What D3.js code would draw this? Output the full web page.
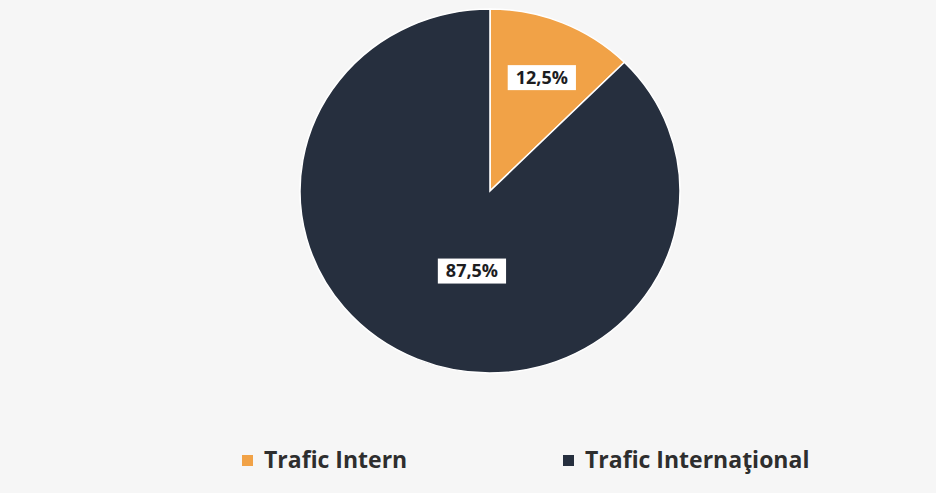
<!DOCTYPE html>
<html>
<head>
<meta charset="utf-8">
<script src="https://cdn.jsdelivr.net/npm/d3@7"></script>
<style>
	body { margin: 0; background: #f6f6f6; }
	svg { display: block; }
</style>
</head>
<body>
<div id="chart"></div>
<script>

const categories = ['Trafic Intern', 'Trafic Internaţional'];
const values = [12.5, 87.5];
const labels = ['12,5%', '87,5%'];
const colors = ['#f1a247', '#262f3e'];

const width = 936;
const height = 493;

const cx = 490;
const cy = 191;
const r = 182;
const sx = 190 / 182; // the scan stretches the pie a bit sideways

const svg = d3.select('#chart')
	.append('svg')
		.attr('width', width)
		.attr('height', height);

svg.append('rect')
	.attr('width', width)
	.attr('height', height)
	.attr('fill', '#f6f6f6');

const pie = d3.pie()
	.sort(null)
	.value(function(d) { return d; });

const arcs = pie(values);

const arc = d3.arc()
	.innerRadius(0)
	.outerRadius(r);

const g = svg.append('g')
	.attr('transform', `translate(${cx}, ${cy}) scale(${sx}, 1)`);

g.selectAll('path')
	.data(arcs)
	.enter().append('path')
		.attr('d', arc)
		.attr('fill', function(d, i) { return colors[i]; })
		.attr('stroke', '#ffffff')
		.attr('stroke-width', 1.5);

// label placement, roughly where the original put them
const labelRadius = [0.68, 0.45];
const labelTurn = [0.02, -0.18];

arcs.forEach(function(d, i) {
	let a = (d.startAngle + d.endAngle) / 2 + labelTurn[i];
	let lr = r * labelRadius[i];
	let x = cx + Math.sin(a) * lr * sx;
	let y = cy - Math.cos(a) * lr;

	let lg = svg.append('g')
		.attr('transform', `translate(${x}, ${y})`);

	let t = lg.append('text')
		.attr('text-anchor', 'middle')
		.attr('dy', '0.35em')
		.style('font-family', '"Open Sans", sans-serif')
		.style('font-weight', 'bold')
		.style('font-size', '18px')
		.attr('fill', '#1d1d1f')
		.text(labels[i]);

	let bb = t.node().getBBox();
	lg.insert('rect', 'text')
		.attr('x', bb.x - 8)
		.attr('y', -12.5)
		.attr('width', bb.width + 16)
		.attr('height', 25)
		.attr('fill', '#ffffff');
});

// legend
const legendX = [242, 563];
const legend = svg.append('g');

categories.forEach(function(c, i) {
	legend.append('rect')
		.attr('x', legendX[i])
		.attr('y', 455)
		.attr('width', 11)
		.attr('height', 11)
		.attr('fill', colors[i]);

	legend.append('text')
		.attr('x', legendX[i] + 22)
		.attr('y', 468)
		.style('font-family', '"Open Sans", sans-serif')
		.style('font-weight', 'bold')
		.style('font-size', '23px')
		.attr('fill', '#2e2e2e')
		.text(c);
});

</script>
</body>
</html>
